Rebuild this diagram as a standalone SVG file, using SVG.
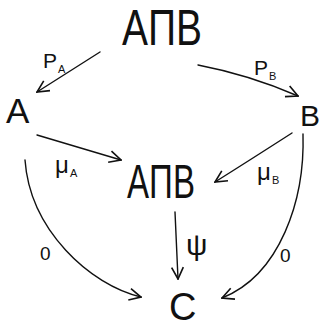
<svg xmlns="http://www.w3.org/2000/svg" width="323" height="329" viewBox="0 0 323 329">
<style>
.n{font-family:"Liberation Sans",Arial,sans-serif;fill:#111}
.l{font-family:"Liberation Sans",Arial,sans-serif;fill:#111}
.c path{fill:none;stroke:#111;stroke-width:1.4;stroke-linecap:round}
</style>
<defs>
<marker id="ah" markerUnits="userSpaceOnUse" markerWidth="14" markerHeight="14" viewBox="0 0 12 12" refX="11" refY="6" orient="auto">
<path d="M1,1 L11,6 L1,11" fill="none" stroke="#111" stroke-width="1.4"/>
</marker>
</defs>
<rect width="323" height="329" fill="#fff"/>
<g class="c" id="connectors">
<path d="M100,52 L37,92" marker-end="url(#ah)"/>
<path d="M198,65 Q250,75 298,96" marker-end="url(#ah)"/>
<path d="M37,135 L121,160" marker-end="url(#ah)"/>
<path d="M292,133 Q250,160 215,182" marker-end="url(#ah)"/>
<path d="M175,212 L178,279" marker-end="url(#ah)"/>
<path d="M25,160 C30,230 90,285 141,297" marker-end="url(#ah)"/>
<path d="M303,134 C305,200 280,275 222,298" marker-end="url(#ah)"/>
</g>
<g class="l" id="labels">
<text x="43" y="68" font-size="21">P</text><text x="58" y="73" font-size="11">A</text>
<text x="254" y="75" font-size="21">P</text><text x="269" y="80" font-size="11">B</text>
<text x="55" y="173" font-size="24">μ</text><text x="70" y="177" font-size="11">A</text>
<text x="257" y="180" font-size="24">μ</text><text x="272" y="184" font-size="11">B</text>
<text x="186" y="255" font-size="30">ψ</text>
<text x="40" y="260" font-size="19">0</text>
<text x="280" y="262" font-size="19">0</text>
</g>
<g id="node-top"><text class="n" x="122" y="45" font-size="50" textLength="80" lengthAdjust="spacingAndGlyphs">AΠB</text></g>
<g id="node-A"><text class="n" x="6" y="123" font-size="35">A</text></g>
<g id="node-B"><text class="n" x="300" y="126" font-size="30">B</text></g>
<g id="node-mid"><text class="n" x="127" y="198" font-size="48" textLength="68" lengthAdjust="spacingAndGlyphs">AΠB</text></g>
<g id="node-C"><text class="n" x="169" y="320" font-size="38">C</text></g>
</svg>
